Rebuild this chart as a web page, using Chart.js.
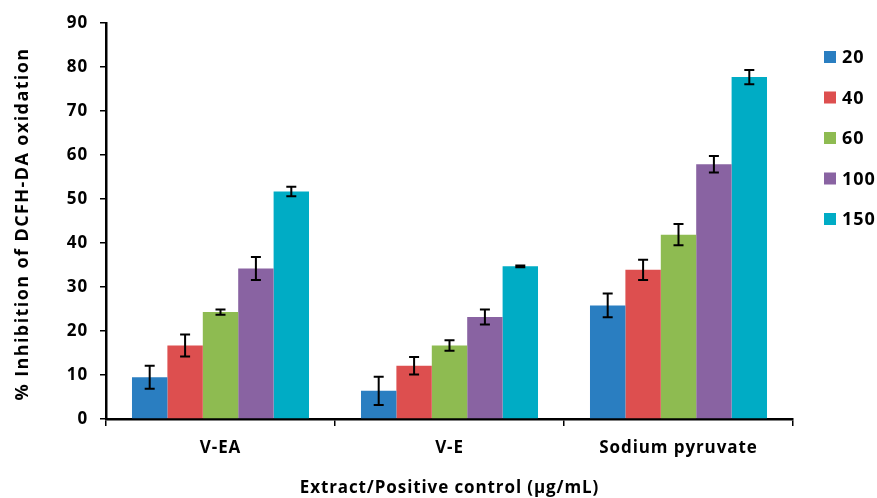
<!DOCTYPE html>
<html>
<head>
<meta charset="utf-8">
<script src="https://cdn.jsdelivr.net/npm/chart.js@4.4.1/dist/chart.umd.min.js"></script>
<style>
html,body{margin:0;padding:0;background:#fff;}
#wrap{width:877px;height:498px;position:relative;}
</style>
</head>
<body>
<div id="wrap"><canvas id="c" width="877" height="498"></canvas></div>
<script>
const categories = ['V-EA', 'V-E', 'Sodium pyruvate'];
const seriesLabels = ['20', '40', '60', '100', '150'];
const values20  = [9.5, 6.4, 25.8];
const values40  = [16.7, 12.1, 33.9];
const values60  = [24.3, 16.7, 41.9];
const values100 = [34.2, 23.2, 57.9];
const values150 = [51.7, 34.7, 77.7];
const err20  = [2.6, 3.2, 2.7];
const err40  = [2.5, 2.0, 2.3];
const err60  = [0.6, 1.2, 2.4];
const err100 = [2.6, 1.7, 1.9];
const err150 = [1.1, 0.2, 1.6];
const colors = ['#2A7EC1', '#DD4F4F', '#8EBB51', '#8963A2', '#00ACC5'];
const yTicks = [0, 10, 20, 30, 40, 50, 60, 70, 80, 90];
const yTitle = '% Inhibition of DCFH-DA oxidation';
const xTitle = 'Extract/Positive control (µg/mL)';

const allValues = [values20, values40, values60, values100, values150];
const allErrs = [err20, err40, err60, err100, err150];
const FONT = '"Open Sans", "Liberation Sans", sans-serif';

const spacing = {
  id: 'spacing',
  beforeUpdate(chart) { chart.ctx.letterSpacing = '0.9px'; },
  beforeDraw(chart) { chart.ctx.letterSpacing = '0.9px'; }
};

const yTitlePlugin = {
  id: 'yTitlePlugin',
  afterDraw(chart) {
    const ctx = chart.ctx;
    const ca = chart.chartArea;
    ctx.save();
    ctx.letterSpacing = '1.4px';
    ctx.font = 'bold 18px ' + FONT;
    ctx.fillStyle = '#000';
    ctx.textAlign = 'center';
    ctx.textBaseline = 'middle';
    ctx.translate(23, (ca.top + ca.bottom) / 2 + 3);
    ctx.rotate(-Math.PI / 2);
    ctx.fillText(yTitle, 0, 0);
    ctx.restore();
  }
};

const errorBars = {
  id: 'errorBars',
  afterDatasetsDraw(chart) {
    const ctx = chart.ctx;
    const y = chart.scales.y;
    ctx.save();
    ctx.strokeStyle = '#000';
    ctx.lineWidth = 2;
    chart.data.datasets.forEach((ds, i) => {
      const meta = chart.getDatasetMeta(i);
      meta.data.forEach((bar, j) => {
        const v = ds.data[j], e = ds.errors[j];
        const yt = y.getPixelForValue(v + e), yb = y.getPixelForValue(v - e);
        const x = bar.x, cw = 5;
        ctx.beginPath();
        ctx.moveTo(x, yt); ctx.lineTo(x, yb);
        ctx.moveTo(x - cw, yt); ctx.lineTo(x + cw, yt);
        ctx.moveTo(x - cw, yb); ctx.lineTo(x + cw, yb);
        ctx.stroke();
      });
    });
    ctx.restore();
  }
};

const customLegend = {
  id: 'customLegend',
  afterDraw(chart) {
    const ctx = chart.ctx;
    const ca = chart.chartArea;
    ctx.save();
    ctx.font = 'bold 18px ' + FONT;
    ctx.textBaseline = 'middle';
    ctx.textAlign = 'left';
    chart.data.datasets.forEach((ds, i) => {
      const cy = ca.top + 34 + i * 40.5;
      const bx = ca.right + 31;
      ctx.fillStyle = ds.backgroundColor;
      ctx.fillRect(bx, cy - 6, 12, 12);
      ctx.fillStyle = '#000';
      ctx.fillText(ds.label, bx + 18, cy + 1);
    });
    ctx.restore();
  }
};

new Chart(document.getElementById('c'), {
  type: 'bar',
  data: {
    labels: categories,
    datasets: seriesLabels.map((l, i) => ({
      label: l,
      data: allValues[i],
      errors: allErrs[i],
      backgroundColor: colors[i],
      borderWidth: 0,
      barPercentage: 1.0,
      categoryPercentage: 0.773
    }))
  },
  options: {
    responsive: false,
    animation: false,
    devicePixelRatio: 1,
    layout: { padding: { left: 0, right: 84, top: 23, bottom: 0 } },
    plugins: { legend: { display: false }, tooltip: { enabled: false } },
    scales: {
      x: {
        offset: true,
        grid: { display: true, offset: true, drawOnChartArea: false, drawTicks: true, tickLength: 7, color: '#000', lineWidth: 1.5 },
        border: { display: true, color: '#000', width: 2.5 },
        ticks: { color: '#000', font: { family: FONT, size: 17, weight: 'bold' }, padding: 12 },
        title: { display: true, text: xTitle, color: '#000', font: { family: FONT, size: 17, weight: 'bold' }, padding: { top: 8, bottom: 0 } },
        afterFit(s) { s.height = 79; }
      },
      y: {
        min: 0, max: 90,
        afterBuildTicks(s) { s.ticks = yTicks.map(v => ({ value: v })); },
        grid: { display: true, drawOnChartArea: false, drawTicks: true, tickLength: 6, color: '#000', lineWidth: 1.5 },
        border: { display: true, color: '#000', width: 2.5 },
        ticks: { color: '#000', font: { family: FONT, size: 17, weight: 'bold' }, padding: 12 },
        title: { display: false },
        afterFit(s) { s.width = 106; }
      }
    }
  },
  plugins: [spacing, errorBars, customLegend, yTitlePlugin]
});
</script>
</body>
</html>
